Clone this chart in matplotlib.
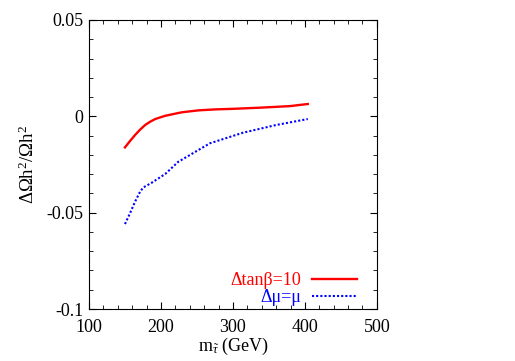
import matplotlib
matplotlib.use("Agg")
import matplotlib.pyplot as plt
from matplotlib.ticker import MultipleLocator

plt.rcParams['font.family'] = ['Liberation Serif', 'DejaVu Serif']
plt.rcParams['mathtext.fontset'] = 'custom'
plt.rcParams['mathtext.rm'] = 'Liberation Serif'
plt.rcParams['mathtext.it'] = 'Liberation Serif:italic'

# courbes
m_tanb = [150, 157, 164, 171, 178, 185, 192, 206, 229, 252, 275, 300, 338, 379, 404]
d_tanb = [-0.0161, -0.0128, -0.0097, -0.0069, -0.0045, -0.0028, -0.0014, 0.0003, 0.0021,
          0.0031, 0.0036, 0.0039, 0.0045, 0.0053, 0.0064]

m_mu = [150, 157, 164, 171, 175.5, 187, 206, 224, 268, 314, 360, 404]
d_mu = [-0.0559, -0.0503, -0.0443, -0.0391, -0.0369, -0.0345, -0.0299, -0.0236,
        -0.0140, -0.0085, -0.0045, -0.0014]

fig = plt.figure(figsize=(5.15, 3.61), dpi=100)
ax = fig.add_axes([0.1728, 0.144, 0.559, 0.8006])

ax.plot(m_tanb, d_tanb, '-', color='#ff0000', lw=1.7, label='Δtanβ=10')
ax.plot(m_mu, d_mu, linestyle=(0, (1, 1)), color='#0000ff', lw=1.5, label='Δμ=μ')

ax.set_xlim(100, 500)
ax.set_ylim(-0.1, 0.05)
ax.set_xticks([100, 200, 300, 400, 500])
ax.set_yticks([-0.1, -0.05, 0, 0.05])
ax.set_yticklabels(['-0.1', '-0.05', '0', '0.05'])
ax.xaxis.set_minor_locator(MultipleLocator(20))
ax.yaxis.set_minor_locator(MultipleLocator(0.01))
ax.tick_params(which='both', direction='in', top=True, right=True, labelsize=13)
ax.tick_params(which='major', length=5, width=0.8)
ax.tick_params(which='minor', length=3, width=0.6)
ax.tick_params(axis='x', pad=7)
ax.tick_params(axis='y', pad=4)

ax.set_xlabel(r'm$_{\tilde{\tau}}$ (GeV)', fontsize=13, labelpad=0)
ax.set_ylabel(r'$\Delta\Omega$h$^{2}$/$\Omega$h$^{2}$', fontsize=13.5, labelpad=6)

leg = ax.legend(loc='lower right', bbox_to_anchor=(0.93, 0.01), frameon=False,
                markerfirst=False, fontsize=13, handlelength=2.5, borderpad=0,
                borderaxespad=0, labelspacing=0.0, handletextpad=0.6)
for txt, col in zip(leg.get_texts(), ['#ff0000', '#0000ff']):
    txt.set_color(col)

fig.savefig('out.png', dpi=100)
